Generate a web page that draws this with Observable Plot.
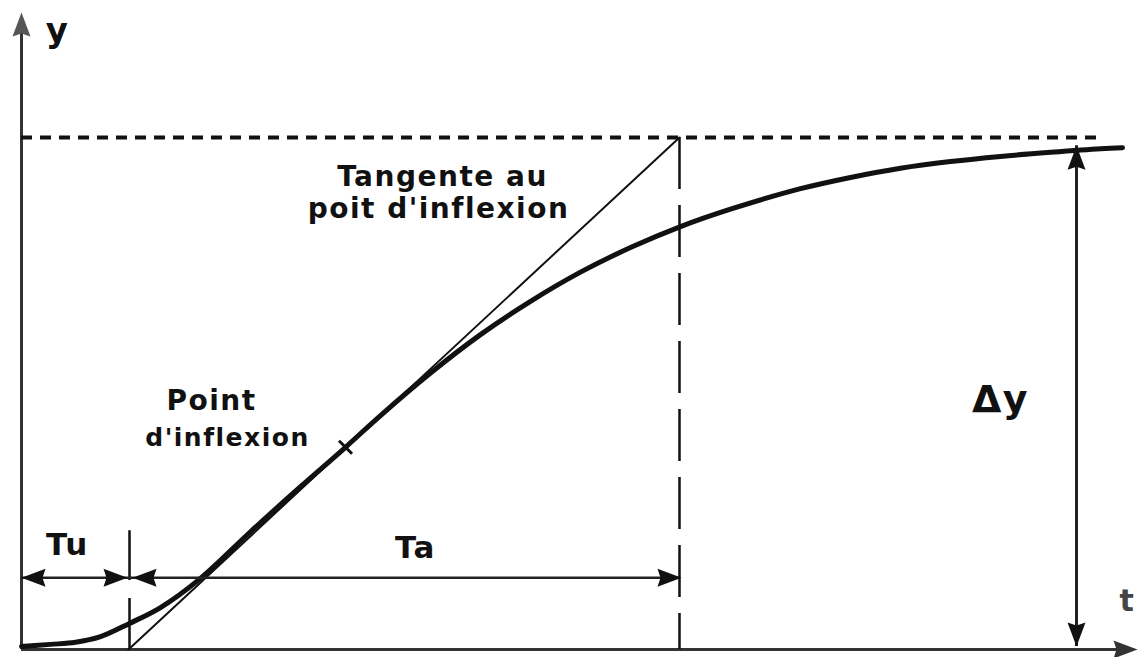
<!DOCTYPE html>
<html>
<head>
<meta charset="utf-8">
<script src="https://cdn.jsdelivr.net/npm/d3@7"></script>
<script src="https://cdn.jsdelivr.net/npm/@observablehq/plot@0.6"></script>
<style>
  html, body { margin: 0; padding: 0; background: #fff; }
  #chart svg text { letter-spacing: 1.5px; }
</style>
</head>
<body>
<div id="chart"></div>
<script>
// ---- data (time t, normalised response y; Δy = 1) ----
const curveT = [0, 0.29, 0.54, 0.79, 1.08, 1.39, 1.79, 2.29, 2.79, 3.24, 3.59, 4.09, 4.59, 5.09, 5.59, 6.09, 6.59, 7.09, 7.79, 8.29, 8.79, 9.29, 9.79, 10.29, 10.79, 11.01];
const curveY = [0.006, 0.010, 0.014, 0.025, 0.051, 0.082, 0.139, 0.230, 0.318, 0.395, 0.457, 0.540, 0.615, 0.680, 0.737, 0.785, 0.826, 0.860, 0.900, 0.922, 0.940, 0.953, 0.963, 0.971, 0.978, 0.980];
const Tu = 1.07;          // délai
const Ta = 5.51;          // constante de temps apparente
const steady = 1;         // Δy
const inflexionT = 3.24;
const inflexionY = 0.395;
const deltaT = 10.55;     // position of the Δy arrow
const labelsTangent = ["Tangente au", "poit d'inflexion"];
const labelsPoint = ["Point", "d'inflexion"];
const labelTu = "Tu", labelTa = "Ta", labelDy = "Δy", labelY = "y", labelT = "t";

const curve = curveT.map((t, i) => ({t, y: curveY[i]}));

// custom filled arrowhead symbols (tip at origin)
const L = 24, W = 9, N = 3;
const head = (dx, dy) => ({
  draw(ctx) {
    const bx = -dx * L, by = -dy * L;
    const nx = -dx * (L - N), ny = -dy * (L - N);
    ctx.moveTo(0, 0);
    ctx.lineTo(bx - dy * W, by + dx * W);
    ctx.lineTo(nx, ny);
    ctx.lineTo(bx + dy * W, by - dx * W);
    ctx.closePath();
  }
});
const headUp = head(0, -1), headDown = head(0, 1), headLeft = head(-1, 0), headRight = head(1, 0);

const arrowY = 0.14;
const font = "DejaVu Sans, Verdana, sans-serif";
const ink = "#111";

const chart = Plot.plot({
  width: 1141,
  height: 657,
  marginLeft: 21,
  marginRight: 4,
  marginTop: 9,
  marginBottom: 8,
  x: {domain: [0, 11.16], axis: null},
  y: {domain: [0, 1.25], axis: null},
  style: {background: "#fff", overflow: "visible"},
  marks: [
    // axes
    Plot.ruleY([0], {x1: 0, x2: 11.0, stroke: "#333", strokeWidth: 3}),
    Plot.ruleX([0], {y1: 0, y2: 1.21, stroke: "#333", strokeWidth: 3}),
    Plot.dot([{t: 11.16, y: 0}], {x: "t", y: "y", symbol: headRight, fill: "#333", stroke: null}),
    Plot.dot([{t: 0, y: 1.244}], {x: "t", y: "y", symbol: headUp, fill: "#555", stroke: null}),
    // steady-state dashed line
    Plot.ruleY([steady], {x1: 0, x2: 10.83, stroke: ink, strokeWidth: 4, strokeDasharray: "11,8"}),
    // dashed vertical at Tu + Ta
    Plot.ruleX([Tu + Ta], {y1: steady, y2: 0, stroke: ink, strokeWidth: 2.5, strokeDasharray: "52,16"}),
    // dashed vertical at Tu
    Plot.ruleX([Tu + 0.01], {y1: 0, y2: 0.232, stroke: ink, strokeWidth: 2.5, strokeDasharray: "51,18"}),
    // tangent
    Plot.line([{t: Tu, y: 0}, {t: Tu + Ta, y: steady}], {x: "t", y: "y", stroke: ink, strokeWidth: 2}),
    // response curve
    Plot.line(curve, {x: "t", y: "y", curve: "catmull-rom", stroke: ink, strokeWidth: 5}),
    // inflexion mark
    Plot.dot([{t: inflexionT, y: inflexionY}], {x: "t", y: "y", symbol: "times", r: 6, stroke: ink, strokeWidth: 3}),
    // Tu / Ta arrows
    Plot.ruleY([arrowY], {x1: 0, x2: Tu + Ta, stroke: "#222", strokeWidth: 2.5}),
    Plot.dot([{t: 0, y: arrowY}, {t: Tu + 0.04, y: arrowY}], {x: "t", y: "y", symbol: headLeft, fill: ink, stroke: null}),
    Plot.dot([{t: Tu - 0.01, y: arrowY}, {t: Tu + Ta + 0.02, y: arrowY}], {x: "t", y: "y", symbol: headRight, fill: ink, stroke: null}),
    // Δy arrow
    Plot.ruleX([deltaT], {y1: 0.006, y2: 0.984, stroke: "#222", strokeWidth: 3}),
    Plot.dot([{t: deltaT, y: 0.984}], {x: "t", y: "y", symbol: headUp, fill: ink, stroke: null}),
    Plot.dot([{t: deltaT, y: 0.006}], {x: "t", y: "y", symbol: headDown, fill: ink, stroke: null}),
    // labels
    Plot.text([{t: 4.21, y: 0.906, s: labelsTangent[0]}, {t: 4.17, y: 0.842, s: labelsTangent[1]}],
      {x: "t", y: "y", text: "s", lineAnchor: "bottom", fontSize: 28, fontWeight: "bold", fontFamily: font, fill: ink}),
    Plot.text([{t: 1.90, y: 0.467, s: labelsPoint[0]}],
      {x: "t", y: "y", text: "s", lineAnchor: "bottom", fontSize: 28, fontWeight: "bold", fontFamily: font, fill: ink}),
    Plot.text([{t: 2.06, y: 0.398, s: labelsPoint[1]}],
      {x: "t", y: "y", text: "s", lineAnchor: "bottom", fontSize: 25, fontWeight: "bold", fontFamily: font, fill: ink}),
    Plot.text([{t: 0.46, y: 0.184, s: labelTu}, {t: 3.94, y: 0.178, s: labelTa}],
      {x: "t", y: "y", text: "s", lineAnchor: "bottom", fontSize: 31, fontWeight: "bold", fontFamily: font, fill: ink}),
    Plot.text([{t: 9.79, y: 0.463, s: labelDy}],
      {x: "t", y: "y", text: "s", lineAnchor: "bottom", fontSize: 38, fontWeight: "bold", fontFamily: font, fill: ink}),
    Plot.text([{t: 0.36, y: 1.1875, s: labelY}],
      {x: "t", y: "y", text: "s", lineAnchor: "bottom", fontSize: 34, fontWeight: "bold", fontFamily: font, fill: ink}),
    Plot.text([{t: 11.06, y: 0.076, s: labelT}],
      {x: "t", y: "y", text: "s", lineAnchor: "bottom", fontSize: 30, fontWeight: "bold", fontFamily: font, fill: "#444"})
  ]
});
document.getElementById("chart").append(chart);
</script>
</body>
</html>
